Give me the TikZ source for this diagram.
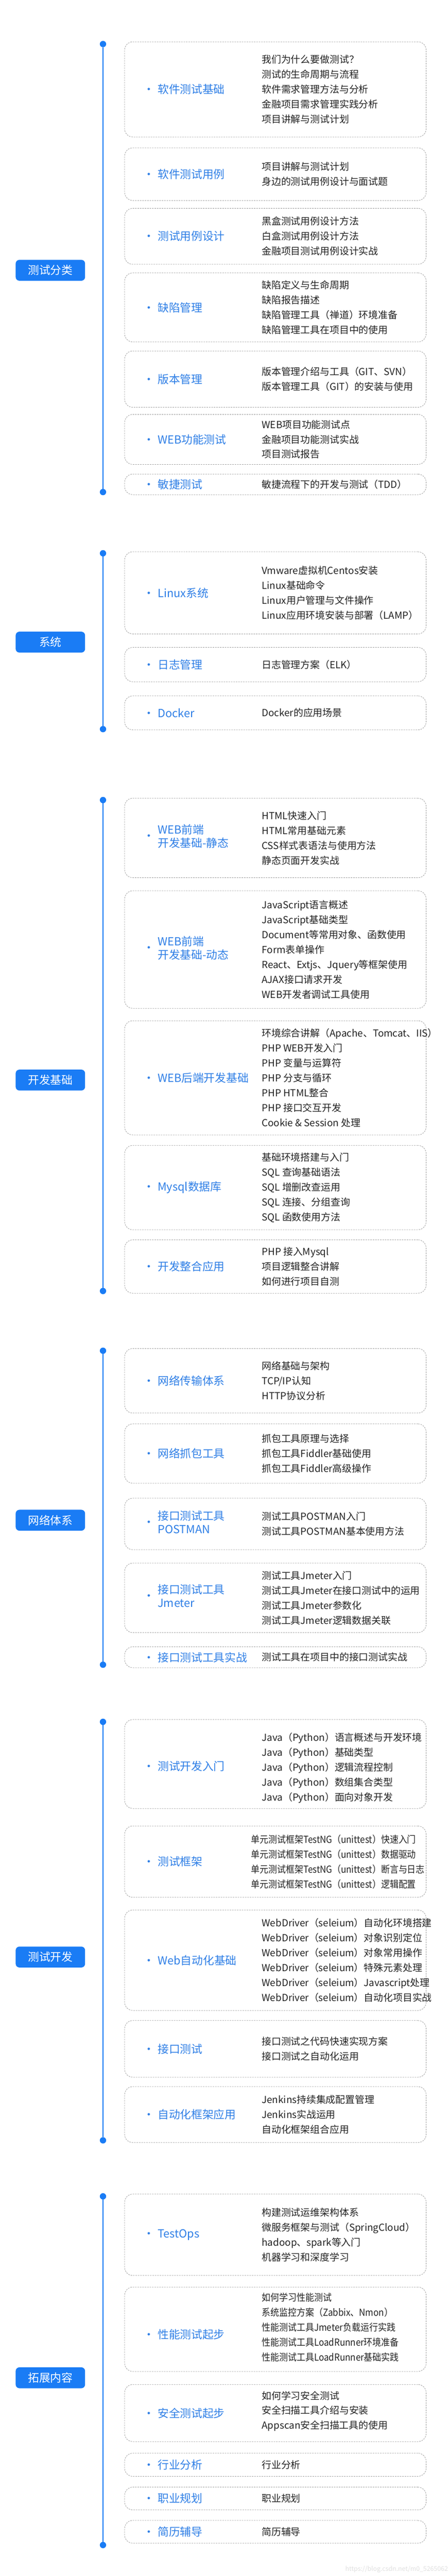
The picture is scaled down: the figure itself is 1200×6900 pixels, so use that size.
\documentclass[tikz,border=0pt]{standalone}
\usepackage{fontspec}
\setmainfont{Noto Sans CJK SC}
\newfontfamily\narrowfont[FakeStretch=0.9]{Noto Sans CJK SC}
\usepackage{tikz}

\definecolor{mainblue}{HTML}{1A7CF5}
\definecolor{subblue}{HTML}{2F7FE6}
\definecolor{boxgray}{HTML}{9E9E9E}
\definecolor{itemblack}{HTML}{222222}

\begin{document}
\begin{tikzpicture}[x=1pt,y=-1pt]

	\tikzstyle{every node}=[inner sep=0pt]
	\tikzstyle{cat}=[fill=mainblue, rounded corners=10pt, minimum width=186pt, minimum height=56pt, text=white, font=\fontsize{30pt}{36pt}\selectfont]
	\tikzstyle{topic}=[draw=boxgray, line width=1.1pt, dash pattern=on 4pt off 2.5pt, rounded corners=22pt, minimum width=808pt]
	\tikzstyle{sub}=[anchor=west, text=subblue, font=\fontsize{30pt}{36pt}\selectfont]
	\tikzstyle{items}=[anchor=west, align=left, text=itemblack, font=\fontsize{26pt}{40pt}\selectfont]
	\tikzstyle{narrowitems}=[items, font=\narrowfont\fontsize{26pt}{40pt}\selectfont]
	\tikzstyle{dot}=[circle, fill=mainblue, minimum size=17pt]
	\tikzstyle{timeline}=[mainblue, line width=2pt]

	\useasboundingbox (0,0) rectangle (1200,6900);
	\fill[white] (0,0) rectangle (1200,6900);

	% 测试分类
	\node[dot] (d1a) at (276,118) {};
	\node[dot] (d1b) at (276,1318) {};
	\draw[timeline] (d1a) -- (d1b);
	\node[cat] (c1) at (135,724) {测试分类};

	\node[topic, minimum height=255pt] (t11) at (738,239.5) {};
	\node[sub] (t11l) at ([xshift=50pt]t11.west) {·\hspace{9pt}软件测试基础};
	\node[items] (t11i) at ([xshift=368pt]t11.west) {我们为什么要做测试？\\测试的生命周期与流程\\软件需求管理方法与分析\\金融项目需求管理实践分析\\项目讲解与测试计划};

	\node[topic, minimum height=141pt] (t12) at (738,466.5) {};
	\node[sub] (t12l) at ([xshift=50pt]t12.west) {·\hspace{9pt}软件测试用例};
	\node[items] (t12i) at ([xshift=368pt]t12.west) {项目讲解与测试计划\\身边的测试用例设计与面试题};

	\node[topic, minimum height=150pt] (t13) at (738,633) {};
	\node[sub] (t13l) at ([xshift=50pt]t13.west) {·\hspace{9pt}测试用例设计};
	\node[items] (t13i) at ([xshift=368pt]t13.west) {黑盒测试用例设计方法\\白盒测试用例设计方法\\金融项目测试用例设计实战};

	\node[topic, minimum height=185pt] (t14) at (738,823.5) {};
	\node[sub] (t14l) at ([xshift=50pt]t14.west) {·\hspace{9pt}缺陷管理};
	\node[items] (t14i) at ([xshift=368pt]t14.west) {缺陷定义与生命周期\\缺陷报告描述\\缺陷管理工具（禅道）环境准备\\缺陷管理工具在项目中的使用};

	\node[topic, minimum height=151pt] (t15) at (738,1015.5) {};
	\node[sub] (t15l) at ([xshift=50pt]t15.west) {·\hspace{9pt}版本管理};
	\node[items] (t15i) at ([xshift=368pt]t15.west) {版本管理介绍与工具（GIT、SVN）\\版本管理工具（GIT）的安装与使用};

	\node[topic, minimum height=134pt] (t16) at (738,1177) {};
	\node[sub] (t16l) at ([xshift=50pt]t16.west) {·\hspace{9pt}WEB功能测试};
	\node[items] (t16i) at ([xshift=368pt]t16.west) {WEB项目功能测试点\\金融项目功能测试实战\\项目测试报告};

	\node[topic, minimum height=55pt] (t17) at (738,1297.5) {};
	\node[sub] (t17l) at ([xshift=50pt]t17.west) {·\hspace{9pt}敏捷测试};
	\node[items] (t17i) at ([xshift=368pt]t17.west) {敏捷流程下的开发与测试（TDD）};

	% 系统
	\node[dot] (d2a) at (276,1482) {};
	\node[dot] (d2b) at (276,1953) {};
	\draw[timeline] (d2a) -- (d2b);
	\node[cat] (c2) at (135,1720) {系统};

	\node[topic, minimum height=220pt] (t21) at (738,1588) {};
	\node[sub] (t21l) at ([xshift=50pt]t21.west) {·\hspace{9pt}Linux系统};
	\node[items] (t21i) at ([xshift=368pt]t21.west) {Vmware虚拟机Centos安装\\Linux基础命令\\Linux用户管理与文件操作\\Linux应用环境安装与部署（LAMP）};

	\node[topic, minimum height=92pt] (t22) at (738,1780) {};
	\node[sub] (t22l) at ([xshift=50pt]t22.west) {·\hspace{9pt}日志管理};
	\node[items] (t22i) at ([xshift=368pt]t22.west) {日志管理方案（ELK）};

	\node[topic, minimum height=91pt] (t23) at (738,1909.5) {};
	\node[sub] (t23l) at ([xshift=50pt]t23.west) {·\hspace{9pt}Docker};
	\node[items] (t23i) at ([xshift=368pt]t23.west) {Docker的应用场景};

	% 开发基础
	\node[dot] (d3a) at (276,2143) {};
	\node[dot] (d3b) at (276,3458) {};
	\draw[timeline] (d3a) -- (d3b);
	\node[cat] (c3) at (135,2893) {开发基础};

	\node[topic, minimum height=213pt] (t31) at (738,2244.5) {};
	\node[sub] (t31l) at ([xshift=50pt]t31.west) {·\hspace{9pt}\begin{tabular}{@{}l@{}}WEB前端\\开发基础-静态\end{tabular}};
	\node[items] (t31i) at ([xshift=368pt]t31.west) {HTML快速入门\\HTML常用基础元素\\CSS样式表语法与使用方法\\静态页面开发实战};

	\node[topic, minimum height=315pt] (t32) at (738,2543.5) {};
	\node[sub] (t32l) at ([xshift=50pt]t32.west) {·\hspace{9pt}\begin{tabular}{@{}l@{}}WEB前端\\开发基础-动态\end{tabular}};
	\node[items] (t32i) at ([xshift=368pt]t32.west) {JavaScript语言概述\\JavaScript基础类型\\Document等常用对象、函数使用\\Form表单操作\\React、Extjs、Jquery等框架使用\\AJAX接口请求开发\\WEB开发者调试工具使用};

	\node[topic, minimum height=306pt] (t33) at (738,2887) {};
	\node[sub] (t33l) at ([xshift=50pt]t33.west) {·\hspace{9pt}WEB后端开发基础};
	\node[items] (t33i) at ([xshift=368pt]t33.west) {环境综合讲解（Apache、Tomcat、IIS）\\PHP WEB开发入门\\PHP 变量与运算符\\PHP 分支与循环\\PHP HTML整合\\PHP 接口交互开发\\Cookie \& Session 处理};

	\node[topic, minimum height=226pt] (t34) at (738,3181) {};
	\node[sub] (t34l) at ([xshift=50pt]t34.west) {·\hspace{9pt}Mysql数据库};
	\node[items] (t34i) at ([xshift=368pt]t34.west) {基础环境搭建与入门\\SQL 查询基础语法\\SQL 增删改查运用\\SQL 连接、分组查询\\SQL 函数使用方法};

	\node[topic, minimum height=143pt] (t35) at (738,3392.5) {};
	\node[sub] (t35l) at ([xshift=50pt]t35.west) {·\hspace{9pt}开发整合应用};
	\node[items] (t35i) at ([xshift=368pt]t35.west) {PHP 接入Mysql\\项目逻辑整合讲解\\如何进行项目自测};

	% 网络体系
	\node[dot] (d4a) at (276,3618) {};
	\node[dot] (d4b) at (276,4459) {};
	\draw[timeline] (d4a) -- (d4b);
	\node[cat] (c4) at (135,4072) {网络体系};

	\node[topic, minimum height=173pt] (t41) at (738,3698.5) {};
	\node[sub] (t41l) at ([xshift=50pt]t41.west) {·\hspace{9pt}网络传输体系};
	\node[items] (t41i) at ([xshift=368pt]t41.west) {网络基础与架构\\TCP/IP认知\\HTTP协议分析};

	\node[topic, minimum height=159pt] (t42) at (738,3893.5) {};
	\node[sub] (t42l) at ([xshift=50pt]t42.west) {·\hspace{9pt}网络抓包工具};
	\node[items] (t42i) at ([xshift=368pt]t42.west) {抓包工具原理与选择\\抓包工具Fiddler基础使用\\抓包工具Fiddler高级操作};

	\node[topic, minimum height=138pt] (t43) at (738,4082) {};
	\node[sub] (t43l) at ([xshift=50pt]t43.west) {·\hspace{9pt}\begin{tabular}{@{}l@{}}接口测试工具\\POSTMAN\end{tabular}};
	\node[items] (t43i) at ([xshift=368pt]t43.west) {测试工具POSTMAN入门\\测试工具POSTMAN基本使用方法};

	\node[topic, minimum height=186pt] (t44) at (738,4280) {};
	\node[sub] (t44l) at ([xshift=50pt]t44.west) {·\hspace{9pt}\begin{tabular}{@{}l@{}}接口测试工具\\Jmeter\end{tabular}};
	\node[items] (t44i) at ([xshift=368pt]t44.west) {测试工具Jmeter入门\\测试工具Jmeter在接口测试中的运用\\测试工具Jmeter参数化\\测试工具Jmeter逻辑数据关联};

	\node[topic, minimum height=56pt] (t45) at (738,4439) {};
	\node[sub] (t45l) at ([xshift=50pt]t45.west) {·\hspace{9pt}接口测试工具实战};
	\node[items] (t45i) at ([xshift=368pt]t45.west) {测试工具在项目中的接口测试实战};

	% 测试开发
	\node[dot] (d5a) at (276,4612) {};
	\node[dot] (d5b) at (276,5733) {};
	\draw[timeline] (d5a) -- (d5b);
	\node[cat] (c5) at (135,5242) {测试开发};

	\node[topic, minimum height=238pt] (t51) at (738,4725) {};
	\node[sub] (t51l) at ([xshift=50pt,yshift=-6pt]t51.west) {·\hspace{9pt}测试开发入门};
	\node[items] (t51i) at ([xshift=368pt,yshift=-10pt]t51.west) {Java（Python）语言概述与开发环境\\Java（Python）基础类型\\Java（Python）逻辑流程控制\\Java（Python）数组集合类型\\Java（Python）面向对象开发};

	\node[topic, minimum height=191pt] (t52) at (738,4986.5) {};
	\node[sub] (t52l) at ([xshift=50pt]t52.west) {·\hspace{9pt}测试框架};
	\node[narrowitems] (t52i) at ([xshift=339pt]t52.west) {单元测试框架TestNG（unittest）快速入门\\单元测试框架TestNG（unittest）数据驱动\\单元测试框架TestNG（unittest）断言与日志\\单元测试框架TestNG（unittest）逻辑配置};

	\node[topic, minimum height=269pt] (t53) at (738,5250.5) {};
	\node[sub] (t53l) at ([xshift=50pt]t53.west) {·\hspace{9pt}Web自动化基础};
	\node[items] (t53i) at ([xshift=368pt]t53.west) {WebDriver（seleium）自动化环境搭建\\WebDriver（seleium）对象识别定位\\WebDriver（seleium）对象常用操作\\WebDriver（seleium）特殊元素处理\\WebDriver（seleium）Javascript处理\\WebDriver（seleium）自动化项目实战};

	\node[topic, minimum height=152pt] (t54) at (738,5488) {};
	\node[sub] (t54l) at ([xshift=50pt]t54.west) {·\hspace{9pt}接口测试};
	\node[items] (t54i) at ([xshift=368pt]t54.west) {接口测试之代码快速实现方案\\接口测试之自动化运用};

	\node[topic, minimum height=150pt] (t55) at (738,5664) {};
	\node[sub] (t55l) at ([xshift=50pt]t55.west) {·\hspace{9pt}自动化框架应用};
	\node[items] (t55i) at ([xshift=368pt]t55.west) {Jenkins持续集成配置管理\\Jenkins实战运用\\自动化框架组合应用};

	% 拓展内容
	\node[dot] (d6a) at (276,5883) {};
	\node[dot] (d6b) at (276,6817) {};
	\draw[timeline] (d6a) -- (d6b);
	\node[cat] (c6) at (135,6369) {拓展内容};

	\node[topic, minimum height=218pt] (t61) at (738,5986) {};
	\node[sub] (t61l) at ([xshift=50pt]t61.west) {·\hspace{9pt}TestOps};
	\node[items] (t61i) at ([xshift=368pt]t61.west) {构建测试运维架构体系\\微服务框架与测试（SpringCloud）\\hadoop、spark等入门\\机器学习和深度学习};

	\node[topic, minimum height=226pt] (t62) at (738,6239) {};
	\node[sub] (t62l) at ([xshift=50pt,yshift=-14pt]t62.west) {·\hspace{9pt}性能测试起步};
	\node[narrowitems] (t62i) at ([xshift=368pt,yshift=5pt]t62.west) {如何学习性能测试\\系统监控方案（Zabbix、Nmon）\\性能测试工具Jmeter负载运行实践\\性能测试工具LoadRunner环境准备\\性能测试工具LoadRunner基础实践};

	\node[topic, minimum height=153pt] (t63) at (738,6463.5) {};
	\node[sub] (t63l) at ([xshift=50pt]t63.west) {·\hspace{9pt}安全测试起步};
	\node[items] (t63i) at ([xshift=368pt,yshift=5pt]t63.west) {如何学习安全测试\\安全扫描工具介绍与安装\\Appscan安全扫描工具的使用};

	\node[topic, minimum height=62pt] (t64) at (738,6602) {};
	\node[sub] (t64l) at ([xshift=50pt]t64.west) {·\hspace{9pt}行业分析};
	\node[items] (t64i) at ([xshift=368pt]t64.west) {行业分析};

	\node[topic, minimum height=61pt] (t65) at (738,6692.5) {};
	\node[sub] (t65l) at ([xshift=50pt]t65.west) {·\hspace{9pt}职业规划};
	\node[items] (t65i) at ([xshift=368pt]t65.west) {职业规划};

	\node[topic, minimum height=61pt] (t66) at (738,6781.5) {};
	\node[sub] (t66l) at ([xshift=50pt]t66.west) {·\hspace{9pt}简历辅导};
	\node[items] (t66i) at ([xshift=368pt]t66.west) {简历辅导};

	\node[anchor=east, text=black!12, font=\fontsize{17pt}{20pt}\selectfont] (mark) at (1210,6882) {https://blog.csdn.net/m0\_52650621};

\end{tikzpicture}
\end{document}
